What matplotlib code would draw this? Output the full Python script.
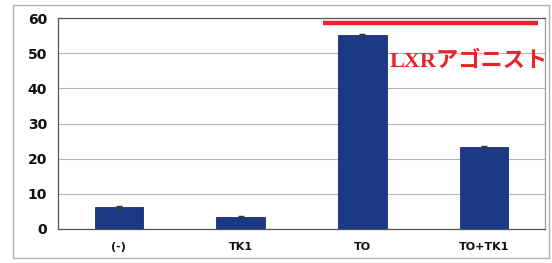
import numpy as np
import matplotlib
matplotlib.use("Agg")
import matplotlib.pyplot as plt
from matplotlib.patches import Rectangle

categories = ["(-)", "TK1", "TO", "TO+TK1"]
values = [6.3, 3.4, 55.2, 23.3]
errors = [0.3, 0.2, 0.3, 0.3]
yticks = [0, 10, 20, 30, 40, 50, 60]
agonist_label = "LXRアゴニスト"
agonist_level = 58.6
agonist_span = [1.68, 3.44]

W, H = 552, 263
fig = plt.figure(figsize=(W / 100, H / 100), dpi=100)
fig.patch.set_facecolor("white")

# outer frame of the scanned figure
fig.patches.append(Rectangle((13 / W, 5 / H), 536 / W, 253 / H, transform=fig.transFigure,
                             fill=False, edgecolor="#b0b0b0", linewidth=1.0))

ax = fig.add_axes([58 / W, (H - 229) / H, 487 / W, 211 / H])
x = np.arange(len(categories))
ax.bar(x, values, width=0.4, color="#1b3a85", edgecolor="#17306e", linewidth=0.6, zorder=3)
ax.errorbar(x, values, yerr=errors, fmt="none", ecolor="#333333", elinewidth=0.8,
            capsize=2, zorder=4)

ax.set_xlim(-0.5, 3.5)
ax.set_ylim(0, 60)
ax.set_yticks(yticks)
ax.set_yticklabels([str(v) for v in yticks], fontsize=10, fontweight="bold", color="#111111")
ax.set_xticks(x)
ax.set_xticklabels(categories, fontsize=8, fontweight="bold", color="#111111")
ax.tick_params(axis="x", length=0, pad=9)
ax.tick_params(axis="y", length=0, pad=8)
ax.yaxis.grid(True, color="#b5b5b5", linewidth=0.8, zorder=0)
for s in ["left", "bottom", "top", "right"]:
    ax.spines[s].set_color("#555555")
    ax.spines[s].set_linewidth(0.9)
ax.spines["right"].set_color("#999999")

# red annotation line and label
ax.plot(agonist_span, [agonist_level, agonist_level], color="#e8232b", linewidth=3.2,
        solid_capstyle="butt", clip_on=False, zorder=5)
ax.text(2.22, 47.5, agonist_label, color="#e8232b", fontsize=16, fontweight="bold",
        va="center", ha="left", family=["Liberation Serif", "Noto Sans CJK JP"],
        clip_on=False, zorder=5)

fig.savefig("out.png", dpi=100, facecolor="white")
